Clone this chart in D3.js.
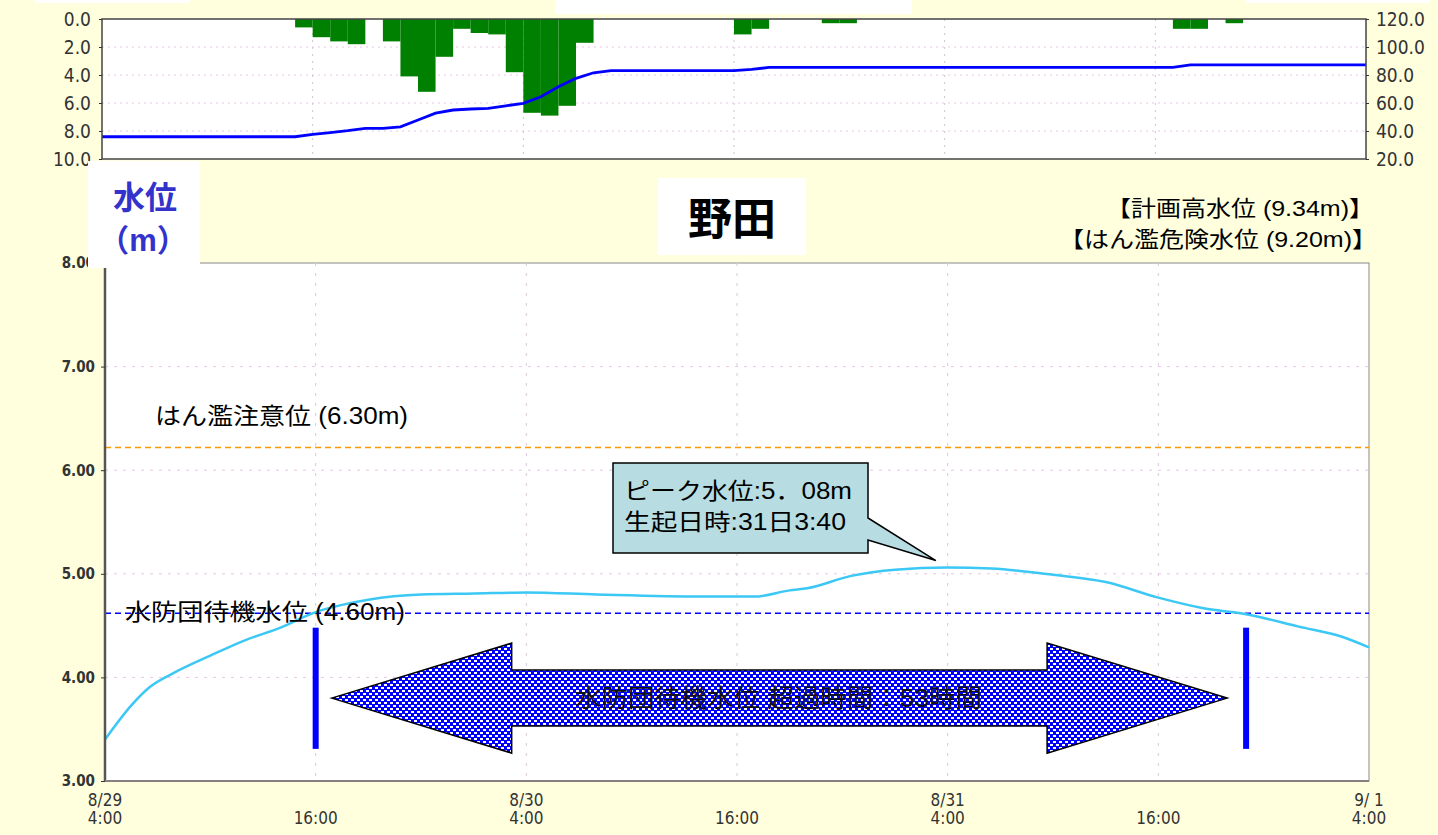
<!DOCTYPE html>
<html>
<head>
<meta charset="utf-8">
<script src="https://cdn.jsdelivr.net/npm/d3@7"></script>
<style>
  body { margin: 0; background: #ffffde; }
  text { font-family: "Liberation Sans", "Noto Sans CJK JP", sans-serif; }
  .tick-narrow { font-family: "Liberation Sans Narrow", "DejaVu Sans Condensed", sans-serif; fill: #333; }
</style>
</head>
<body>
<div id="chart"></div>
<script>
// hours counted from 8/29 4:00
var tickHours = [0, 12, 24, 36, 48, 60, 72];
var tickDate = ["8/29", "", "8/30", "", "8/31", "", "9/ 1"];
var tickTime = ["4:00", "16:00", "4:00", "16:00", "4:00", "16:00", "4:00"];

// top panel: hourly rain (left axis, mm) and level on right axis
var rainHours = [11, 12, 13, 14, 16, 17, 18, 19, 20, 21, 22, 23, 24, 25, 26, 27, 36, 37, 41, 42, 61, 62, 64];
var rainValues = [0.6, 1.3, 1.6, 1.8, 1.6, 4.1, 5.2, 2.7, 0.7, 1.0, 1.1, 3.8, 6.7, 6.9, 6.2, 1.7, 1.1, 0.7, 0.3, 0.3, 0.7, 0.7, 0.3];
var cumValues = [35.9, 35.9, 35.9, 35.9, 35.9, 35.9, 35.9, 35.9, 35.9, 35.9, 35.9, 35.9,
  37.6, 38.8, 40.2, 41.9, 41.9, 43.0, 47.9, 52.8, 55.0, 55.7, 56.2, 58.0, 59.8, 64.5, 71.6, 77.6, 81.6,
  83.1, 83.1, 83.1, 83.1, 83.1, 83.1, 83.1, 83.1, 84.0,
  85.4, 85.4, 85.4, 85.4, 85.4, 85.4, 85.4, 85.4, 85.4, 85.4, 85.4, 85.4,
  85.4, 85.4, 85.4, 85.4, 85.4, 85.4, 85.4, 85.4, 85.4, 85.4, 85.4, 85.4,
  87.3, 87.3, 87.3, 87.3, 87.3, 87.3, 87.3, 87.3, 87.3, 87.3, 87.3];
var rainTicks = [0, 2, 4, 6, 8, 10];
var cumTicks = [120, 100, 80, 60, 40, 20];

// bottom panel: water level at 野田 (m)
var levelHours = [0, 1.5, 2.5, 4, 6, 8, 10, 12, 13.5, 15, 18, 21, 24, 28, 34, 37, 39, 40, 42.5, 45, 48, 50.5, 54, 57, 60, 62.5, 65, 68, 70.5, 72];
var levelValues = [3.40, 3.73, 3.90, 4.05, 4.21, 4.36, 4.48, 4.63, 4.70, 4.75, 4.80, 4.81, 4.82, 4.80, 4.78, 4.78, 4.84, 4.86, 4.98, 5.04, 5.06, 5.05, 4.99, 4.92, 4.77, 4.67, 4.61, 4.49, 4.39, 4.29];
var levelTicks = [3, 4, 5, 6, 7, 8];

var cautionLevel = 6.22;   // drawn position of はん濫注意位
var standbyLevel = 4.62;   // drawn position of 水防団待機水位
var overStart = 12, overEnd = 65;   // hours above standby level
var peakHour = 47.67, peakValue = 5.08;

var svg = d3.select("#chart").append("svg")
    .attr("width", 1438)
    .attr("height", 835);

svg.append("rect").attr("width", 1438).attr("height", 835).attr("fill", "#ffffde");

var defs = svg.append("defs");
var pat = defs.append("pattern")
    .attr("id", "check")
    .attr("width", 6).attr("height", 6)
    .attr("patternUnits", "userSpaceOnUse");
pat.append("rect").attr("width", 6).attr("height", 6).attr("fill", "#0000ff");
pat.append("rect").attr("x", 0).attr("y", 0).attr("width", 3).attr("height", 2).attr("fill", "#fff");
pat.append("rect").attr("x", 3).attr("y", 3).attr("width", 3).attr("height", 2).attr("fill", "#fff");

// cut-off header boxes of the upper panel
svg.append("rect").attr("x", 555).attr("y", 0).attr("width", 357).attr("height", 14).attr("fill", "#fff");
svg.append("rect").attr("x", 35).attr("y", 0).attr("width", 155).attr("height", 3).attr("fill", "#fff");
svg.append("rect").attr("x", 1245).attr("y", 0).attr("width", 185).attr("height", 3).attr("fill", "#fff");

// ---------- top panel ----------
var xTop = d3.scaleLinear().domain([0, 72]).range([102, 1366]);
var yRain = d3.scaleLinear().domain([0, 10]).range([19, 159]);
var yCum = d3.scaleLinear().domain([20, 120]).range([159, 19]);

var topG = svg.append("g");
topG.append("rect")
    .attr("x", xTop(0)).attr("y", yRain(0))
    .attr("width", xTop(72) - xTop(0)).attr("height", yRain(10) - yRain(0))
    .attr("fill", "#fff");

topG.selectAll(".hgrid")
    .data([2, 4, 6, 8])
    .enter().append("line")
    .attr("x1", xTop(0)).attr("x2", xTop(72))
    .attr("y1", function (d) { return yRain(d); })
    .attr("y2", function (d) { return yRain(d); })
    .attr("stroke", "#e6c6e6")
    .attr("stroke-dasharray", "2,4");

topG.selectAll(".vgrid")
    .data(tickHours.slice(1, 6))
    .enter().append("line")
    .attr("x1", function (d) { return xTop(d); })
    .attr("x2", function (d) { return xTop(d); })
    .attr("y1", yRain(0)).attr("y2", yRain(10))
    .attr("stroke", "#c8c8c8")
    .attr("stroke-dasharray", "2,5");

topG.selectAll(".bar")
    .data(rainHours)
    .enter().append("rect")
    .attr("x", function (d) { return xTop(d); })
    .attr("y", yRain(0))
    .attr("width", function (d) { return xTop(d + 1) - xTop(d); })
    .attr("height", function (d, i) { return yRain(rainValues[i]) - yRain(0); })
    .attr("fill", "#008000");

topG.append("path")
    .datum(cumValues)
    .attr("d", d3.line()
        .x(function (d, i) { return xTop(i); })
        .y(function (d) { return yCum(d); }))
    .attr("fill", "none")
    .attr("stroke", "#0000ff")
    .attr("stroke-width", 2.8);

topG.append("rect")
    .attr("x", xTop(0)).attr("y", yRain(0))
    .attr("width", xTop(72) - xTop(0)).attr("height", yRain(10) - yRain(0))
    .attr("fill", "none")
    .attr("stroke", "#444")
    .attr("stroke-width", 1.5);

topG.append("g")
    .attr("transform", "translate(" + xTop(0) + ",0)")
    .call(d3.axisLeft(yRain).tickValues(rainTicks).tickSize(3).tickFormat(d3.format(".1f")))
    .call(function (g) {
        g.select(".domain").remove();
        g.selectAll("line").attr("stroke", "#333");
        g.selectAll("text").attr("class", "tick-narrow").style("font-size", "19px").attr("x", -11);
    });

topG.append("g")
    .attr("transform", "translate(" + xTop(72) + ",0)")
    .call(d3.axisRight(yCum).tickValues(cumTicks).tickSize(3).tickFormat(d3.format(".1f")))
    .call(function (g) {
        g.select(".domain").remove();
        g.selectAll("line").attr("stroke", "#333");
        g.selectAll("text").attr("class", "tick-narrow").style("font-size", "19px").attr("x", 10);
    });

// ---------- bottom panel ----------
var x = d3.scaleLinear().domain([0, 72]).range([105, 1369]);
var y = d3.scaleLinear().domain([3, 8]).range([781, 263]);

var main = svg.append("g");
main.append("rect")
    .attr("x", x(0)).attr("y", y(8))
    .attr("width", x(72) - x(0)).attr("height", y(3) - y(8))
    .attr("fill", "#fff")
    .attr("stroke", "#8a8a8a");

main.selectAll(".hgrid")
    .data([4, 5, 6, 7])
    .enter().append("line")
    .attr("x1", x(0)).attr("x2", x(72))
    .attr("y1", function (d) { return y(d); })
    .attr("y2", function (d) { return y(d); })
    .attr("stroke", "#e6c6e6")
    .attr("stroke-dasharray", "3,6");

main.selectAll(".vgrid")
    .data(tickHours.slice(1, 6))
    .enter().append("line")
    .attr("x1", function (d) { return x(d); })
    .attr("x2", function (d) { return x(d); })
    .attr("y1", y(8)).attr("y2", y(3))
    .attr("stroke", "#dcc8dc")
    .attr("stroke-dasharray", "3,7");

// threshold lines
main.append("line")
    .attr("x1", x(0)).attr("x2", x(72))
    .attr("y1", y(cautionLevel)).attr("y2", y(cautionLevel))
    .attr("stroke", "#ff9900").attr("stroke-width", 1.5)
    .attr("stroke-dasharray", "6,4");
main.append("line")
    .attr("x1", x(0)).attr("x2", x(72))
    .attr("y1", y(standbyLevel)).attr("y2", y(standbyLevel))
    .attr("stroke", "#0000ff").attr("stroke-width", 1.5)
    .attr("stroke-dasharray", "6,4");

main.append("path")
    .datum(levelHours)
    .attr("d", d3.line()
        .x(function (d) { return x(d); })
        .y(function (d, i) { return y(levelValues[i]); })
        .curve(d3.curveMonotoneX))
    .attr("fill", "none")
    .attr("stroke", "#3cc8f5")
    .attr("stroke-width", 2.5);

// axes
main.append("line").attr("x1", x(0)).attr("x2", x(0)).attr("y1", y(8)).attr("y2", y(3))
    .attr("stroke", "#555").attr("stroke-width", 2.5);
main.append("line").attr("x1", x(0)).attr("x2", x(72)).attr("y1", y(3)).attr("y2", y(3))
    .attr("stroke", "#8a7f7f").attr("stroke-width", 2);

main.append("g")
    .attr("transform", "translate(" + x(0) + ",0)")
    .call(d3.axisLeft(y).tickValues(levelTicks).tickSize(4).tickFormat(d3.format(".2f")))
    .call(function (g) {
        g.select(".domain").remove();
        g.selectAll("line").attr("stroke", "#333");
        g.selectAll("text").attr("class", "tick-narrow").style("font-size", "15px")
            .style("font-weight", "bold").attr("fill", "#555").attr("x", -10);
    });

var xt = main.append("g").selectAll("g")
    .data(tickHours)
    .enter().append("g")
    .attr("transform", function (d) { return "translate(" + x(d) + ",0)"; });
xt.append("text")
    .attr("class", "tick-narrow")
    .attr("y", 806)
    .attr("text-anchor", "middle")
    .style("font-size", "17px")
    .text(function (d, i) { return tickDate[i]; });
xt.append("text")
    .attr("class", "tick-narrow")
    .attr("y", 824)
    .attr("text-anchor", "middle")
    .style("font-size", "17px")
    .text(function (d, i) { return tickTime[i]; });

// threshold labels
main.append("text").attr("x", 155).attr("y", 424).attr("textLength", 253).attr("lengthAdjust", "spacingAndGlyphs")
    .style("font-size", "23px").attr("fill", "#000")
    .text("はん濫注意位 (6.30m)");
main.append("text").attr("x", 125).attr("y", 620).attr("textLength", 280).attr("lengthAdjust", "spacingAndGlyphs")
    .style("font-size", "23px").attr("fill", "#000")
    .text("水防団待機水位 (4.60m)");
main.append("text").attr("x", 1106).attr("y", 216).attr("textLength", 268).attr("lengthAdjust", "spacingAndGlyphs")
    .style("font-size", "22px")
    .text("【計画高水位 (9.34m)】");
main.append("text").attr("x", 1059).attr("y", 247).attr("textLength", 318).attr("lengthAdjust", "spacingAndGlyphs")
    .style("font-size", "22px")
    .text("【はん濫危険水位 (9.20m)】");

// exceedance period marks and double arrow
main.selectAll(".mark")
    .data([overStart, overEnd])
    .enter().append("rect")
    .attr("x", function (d) { return x(d) - 3; })
    .attr("y", y(4.48))
    .attr("width", 6)
    .attr("height", y(3.31) - y(4.48))
    .attr("fill", "#0000ff");

var ax0 = x(overStart) + 16, ax1 = x(overEnd) - 19, ay = y(3.8);
var headL = 180, headH = 55, shaftH = 28;
var arrowPts = [
    [ax0, ay], [ax0 + headL, ay - headH], [ax0 + headL, ay - shaftH],
    [ax1 - headL, ay - shaftH], [ax1 - headL, ay - headH], [ax1, ay],
    [ax1 - headL, ay + headH], [ax1 - headL, ay + shaftH],
    [ax0 + headL, ay + shaftH], [ax0 + headL, ay + headH]
];
main.append("polygon")
    .attr("points", arrowPts.map(function (p) { return p.join(","); }).join(" "))
    .attr("fill", "url(#check)")
    .attr("stroke", "#000")
    .attr("stroke-width", 1.5);
main.append("text")
    .attr("x", 575).attr("y", ay + 9)
    .attr("textLength", 407)
    .attr("lengthAdjust", "spacingAndGlyphs")
    .style("font-size", "25px")
    .attr("fill", "#111")
    .text("水防団待機水位 超過時間：53時間");

// peak callout
var tipX = x(peakHour) - 6, tipY = y(peakValue) - 5;
main.append("path")
    .attr("d", "M613,463 H868 V518 L" + tipX + "," + tipY + " L868,540 V553 H613 Z")
    .attr("fill", "#b7dde2")
    .attr("stroke", "#000")
    .attr("stroke-width", 1.5);
main.append("text").attr("x", 624).attr("y", 499).attr("textLength", 228).attr("lengthAdjust", "spacingAndGlyphs")
    .style("font-size", "23px").text("ピーク水位:5．08m");
main.append("text").attr("x", 624).attr("y", 530).attr("textLength", 222).attr("lengthAdjust", "spacingAndGlyphs")
    .style("font-size", "23px").text("生起日時:31日3:40");

// title box
svg.append("rect").attr("x", 658).attr("y", 178).attr("width", 148).attr("height", 77).attr("fill", "#fff");
svg.append("text").attr("x", 732).attr("y", 235).attr("text-anchor", "middle")
    .style("font-size", "44px").style("font-weight", "bold").attr("fill", "#000")
    .text("野田");

// y-axis title box
svg.append("rect").attr("x", 88).attr("y", 161).attr("width", 112).attr("height", 107).attr("fill", "#fff");
svg.append("text").attr("x", 145).attr("y", 209).attr("text-anchor", "middle")
    .style("font-size", "32px").style("font-weight", "bold").attr("fill", "#3333cc")
    .text("水位");
svg.append("text").attr("x", 143).attr("y", 251).attr("text-anchor", "middle")
    .style("font-size", "31px").style("font-weight", "bold").attr("fill", "#3333cc")
    .text("（m）");
</script>
</body>
</html>
